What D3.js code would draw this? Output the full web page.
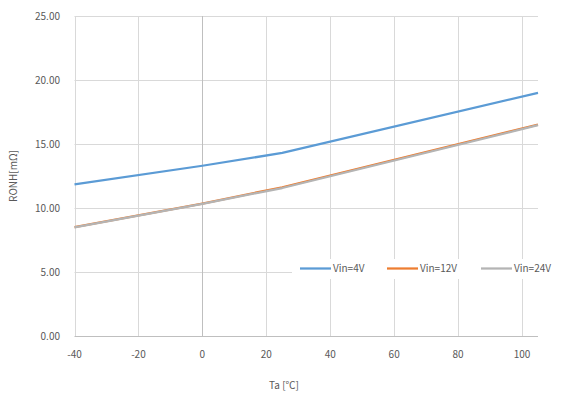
<!DOCTYPE html>
<html><head><meta charset="utf-8">
<script src="https://cdn.jsdelivr.net/npm/d3@7"></script>
<style>body{margin:0;background:#fff;} text{font-family:"Noto Sans CJK JP","Noto Sans",sans-serif;}</style>
</head><body><svg id="c" width="561" height="398"></svg>
<script>
const temps = [-40, 0, 25, 105];
const vin4 = [11.85, 13.3, 14.3, 19.0];
const vin12 = [8.5, 10.35, 11.62, 16.52];
const vin24 = [8.48, 10.33, 11.56, 16.47];
const seriesNames = ["Vin=4V", "Vin=12V", "Vin=24V"];
const seriesColors = ["#5B9BD5", "#ED7D31", "#B4B4B4"];
const xTicks = [-40, -20, 0, 20, 40, 60, 80, 100];
const yTicks = [0, 5, 10, 15, 20, 25];

const svg = d3.select("#c");
const x = d3.scaleLinear().domain([-40, 105]).range([74.5, 538]);
const y = d3.scaleLinear().domain([0, 25]).range([336, 16]);
const grid = "#d9d9d9", txt = "#595959";

// gridlines
svg.append("g").selectAll("line").data(yTicks).join("line")
  .attr("x1", x(-40)).attr("x2", x(105)).attr("y1", d => Math.round(y(d)) + 0.5).attr("y2", d => Math.round(y(d)) + 0.5)
  .attr("stroke", d => d === 0 ? "#bfbfbf" : grid).attr("stroke-width", 1);
svg.append("g").selectAll("line").data(xTicks).join("line")
  .attr("x1", d => Math.round(x(d)) + 0.5).attr("x2", d => Math.round(x(d)) + 0.5).attr("y1", y(25)).attr("y2", y(0))
  .attr("stroke", d => d === 0 ? "#bfbfbf" : grid).attr("stroke-width", 1);

// tick labels
svg.append("g").selectAll("text").data(yTicks).join("text")
  .attr("x", 60).attr("y", d => y(d) + 3.5).attr("text-anchor", "end")
  .attr("font-size", 10).attr("fill", txt).text(d => d3.format(".2f")(d));
svg.append("g").selectAll("text").data(xTicks).join("text")
  .attr("x", d => x(d)).attr("y", 358).attr("text-anchor", "middle")
  .attr("font-size", 10).attr("fill", txt).text(d => d);

// axis titles
svg.append("text").attr("transform", "translate(17,176) rotate(-90)").attr("text-anchor", "middle")
  .attr("font-size", 10).attr("fill", txt).text("RONH[mΩ]");
svg.append("text").attr("x", 284).attr("y", 389).attr("text-anchor", "middle")
  .attr("font-size", 10).attr("fill", txt).text("Ta [℃]");

// lines
const series = [vin4, vin12, vin24];
const line = d3.line().x((d, i) => x(temps[i])).y(d => y(d));
series.forEach((s, k) => {
  svg.append("path").datum(s).attr("d", line).attr("fill", "none")
    .attr("stroke", seriesColors[k]).attr("stroke-width", 2.25).attr("stroke-linejoin", "round");
});

// legend
const lg = svg.append("g");
lg.append("rect").attr("x", 292).attr("y", 259).attr("width", 246).attr("height", 20).attr("fill", "#fff");
const lx = [300, 387, 481];
seriesNames.forEach((n, k) => {
  lg.append("line").attr("x1", lx[k]).attr("x2", lx[k] + 31).attr("y1", 268.5).attr("y2", 268.5)
    .attr("stroke", seriesColors[k]).attr("stroke-width", 2.25);
  lg.append("text").attr("x", lx[k] + 33).attr("y", 272).attr("font-size", 10).attr("fill", txt).text(n);
});
</script></body></html>
